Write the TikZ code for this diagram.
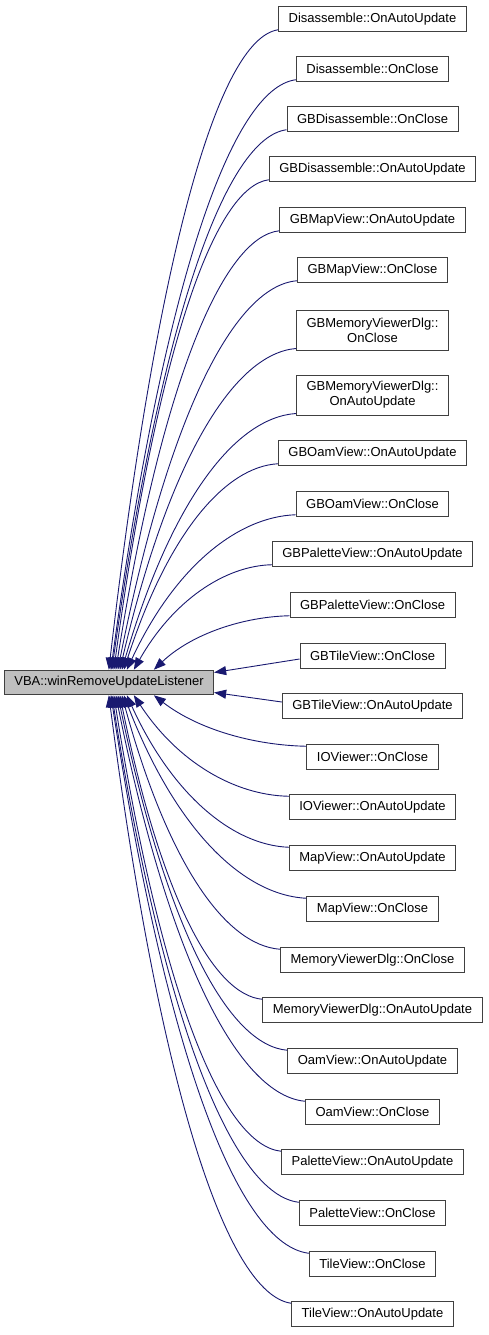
\documentclass[tikz,border=0pt]{standalone}
\usepackage{fontspec}
\setmainfont{Liberation Sans}
\usetikzlibrary{arrows.meta}

\definecolor{edgeblue}{HTML}{191970}
\definecolor{boxline}{HTML}{404040}

\tikzset{
  fn/.style={draw=boxline, line width=1pt, fill=white, minimum height=24.5pt,
    inner xsep=10pt, inner ysep=0pt, font=\fontsize{13}{15}\selectfont},
  fntwo/.style={fn, align=center, minimum height=40pt},
  callee/.style={fn, fill=black!25},
  call/.style={edgeblue, line width=0.9pt, -{Triangle[length=12pt,width=9pt]}}
}

\begin{document}
\begin{tikzpicture}[x=1pt,y=1pt]
\useasboundingbox (0,0) rectangle (488,-1335);

\node[callee] (main) at (109,-682.5) {VBA::winRemoveUpdateListener};

% callers
\node[fn] (disAuto) at (372.5,-19) {Disassemble::OnAutoUpdate};
\node[fn] (disClose) at (372.5,-69) {Disassemble::OnClose};
\node[fn] (gbDisClose) at (372.5,-119) {GBDisassemble::OnClose};
\node[fn] (gbDisAuto) at (372.5,-169) {GBDisassemble::OnAutoUpdate};
\node[fn] (gbMapAuto) at (372.5,-220) {GBMapView::OnAutoUpdate};
\node[fn] (gbMapClose) at (372.5,-270) {GBMapView::OnClose};
\node[fntwo] (gbMemClose) at (372.5,-330) {GBMemoryViewerDlg::\\OnClose};
\node[fntwo] (gbMemAuto) at (372.5,-395) {GBMemoryViewerDlg::\\OnAutoUpdate};
\node[fn] (gbOamAuto) at (372.5,-453) {GBOamView::OnAutoUpdate};
\node[fn] (gbOamClose) at (372.5,-504) {GBOamView::OnClose};
\node[fn] (gbPalAuto) at (372.5,-554) {GBPaletteView::OnAutoUpdate};
\node[fn] (gbPalClose) at (372.5,-605) {GBPaletteView::OnClose};
\node[fn] (gbTileClose) at (372.5,-656) {GBTileView::OnClose};
\node[fn] (gbTileAuto) at (372.5,-706) {GBTileView::OnAutoUpdate};
\node[fn] (ioClose) at (372.5,-757) {IOViewer::OnClose};
\node[fn] (ioAuto) at (372.5,-807) {IOViewer::OnAutoUpdate};
\node[fn] (mapAuto) at (372.5,-858) {MapView::OnAutoUpdate};
\node[fn] (mapClose) at (372.5,-909) {MapView::OnClose};
\node[fn] (memClose) at (372.5,-960) {MemoryViewerDlg::OnClose};
\node[fn] (memAuto) at (372.5,-1010) {MemoryViewerDlg::OnAutoUpdate};
\node[fn] (oamAuto) at (372.5,-1061) {OamView::OnAutoUpdate};
\node[fn] (oamClose) at (372.5,-1112) {OamView::OnClose};
\node[fn] (palAuto) at (372.5,-1162) {PaletteView::OnAutoUpdate};
\node[fn] (palClose) at (372.5,-1213) {PaletteView::OnClose};
\node[fn] (tileClose) at (372.5,-1264) {TileView::OnClose};
\node[fn] (tileAuto) at (372.5,-1314) {TileView::OnAutoUpdate};

% calls from above
\draw[call] ([yshift=2pt]disAuto.south west) .. controls +(-59,-9) and +(49,422) .. ([xshift=105pt]main.north west);
\draw[call] ([yshift=2pt]disClose.south west) .. controls +(-64,-8) and +(53,389) .. ([xshift=107pt]main.north west);
\draw[call] ([yshift=2pt]gbDisClose.south west) .. controls +(-60,-8) and +(50,356) .. ([xshift=108pt]main.north west);
\draw[call] ([yshift=2pt]gbDisAuto.south west) .. controls +(-54,-7) and +(44,323) .. ([xshift=110pt]main.north west);
\draw[call] ([yshift=2pt]gbMapAuto.south west) .. controls +(-56,-6) and +(46,290) .. ([xshift=112pt]main.north west);
\draw[call] ([yshift=2pt]gbMapClose.south west) .. controls +(-62,-5) and +(51,257) .. ([xshift=114pt]main.north west);
\draw[call] ([yshift=2pt]gbMemClose.south west) .. controls +(-61,-5) and +(50,214) .. ([xshift=116pt]main.north west);
\draw[call] ([yshift=2pt]gbMemAuto.south west) .. controls +(-60,-4) and +(50,171) .. ([xshift=118pt]main.north west);
\draw[call] ([yshift=2pt]gbOamAuto.south west) .. controls +(-53,-3) and +(44,136) .. ([xshift=120pt]main.north west);
\draw[call] ([yshift=2pt]gbOamClose.south west) .. controls +(-58,-2) and +(48,103) .. ([xshift=123pt]main.north west);
\draw[call] ([yshift=2pt]gbPalAuto.south west) .. controls +(-47,-1) and +(39,69) .. ([xshift=130pt]main.north west);
\draw[call] ([yshift=2pt]gbPalClose.south west) .. controls +(-46,-1) and +(38,36) .. ([xshift=150pt]main.north west);

% calls from the side
\draw[call] ([yshift=-3pt]gbTileClose.west) -- ([yshift=10pt]main.east);
\draw[call] ([yshift=4pt]gbTileAuto.west) -- ([yshift=-10pt]main.east);

% calls from below
\draw[call] ([yshift=-2pt]ioClose.north west) .. controls +(-53,1) and +(44,-34) .. ([xshift=150pt]main.south west);
\draw[call] ([yshift=-2pt]ioAuto.north west) .. controls +(-54,1) and +(44,-67) .. ([xshift=130pt]main.south west);
\draw[call] ([yshift=-2pt]mapAuto.north west) .. controls +(-55,2) and +(46,-101) .. ([xshift=123pt]main.south west);
\draw[call] ([yshift=-2pt]mapClose.north west) .. controls +(-63,3) and +(52,-135) .. ([xshift=120pt]main.south west);
\draw[call] ([yshift=-2pt]memClose.north west) .. controls +(-55,4) and +(46,-168) .. ([xshift=118pt]main.south west);
\draw[call] ([yshift=-2pt]memAuto.north west) .. controls +(-49,4) and +(41,-201) .. ([xshift=116pt]main.south west);
\draw[call] ([yshift=-2pt]oamAuto.north west) .. controls +(-59,5) and +(49,-235) .. ([xshift=114pt]main.south west);
\draw[call] ([yshift=-2pt]oamClose.north west) .. controls +(-65,6) and +(54,-269) .. ([xshift=112pt]main.south west);
\draw[call] ([yshift=-2pt]palAuto.north west) .. controls +(-58,6) and +(48,-302) .. ([xshift=110pt]main.south west);
\draw[call] ([yshift=-2pt]palClose.north west) .. controls +(-64,7) and +(53,-335) .. ([xshift=108pt]main.south west);
\draw[call] ([yshift=-2pt]tileClose.north west) .. controls +(-69,8) and +(57,-369) .. ([xshift=107pt]main.south west);
\draw[call] ([yshift=-2pt]tileAuto.north west) .. controls +(-63,9) and +(52,-402) .. ([xshift=105pt]main.south west);
\end{tikzpicture}
\end{document}
